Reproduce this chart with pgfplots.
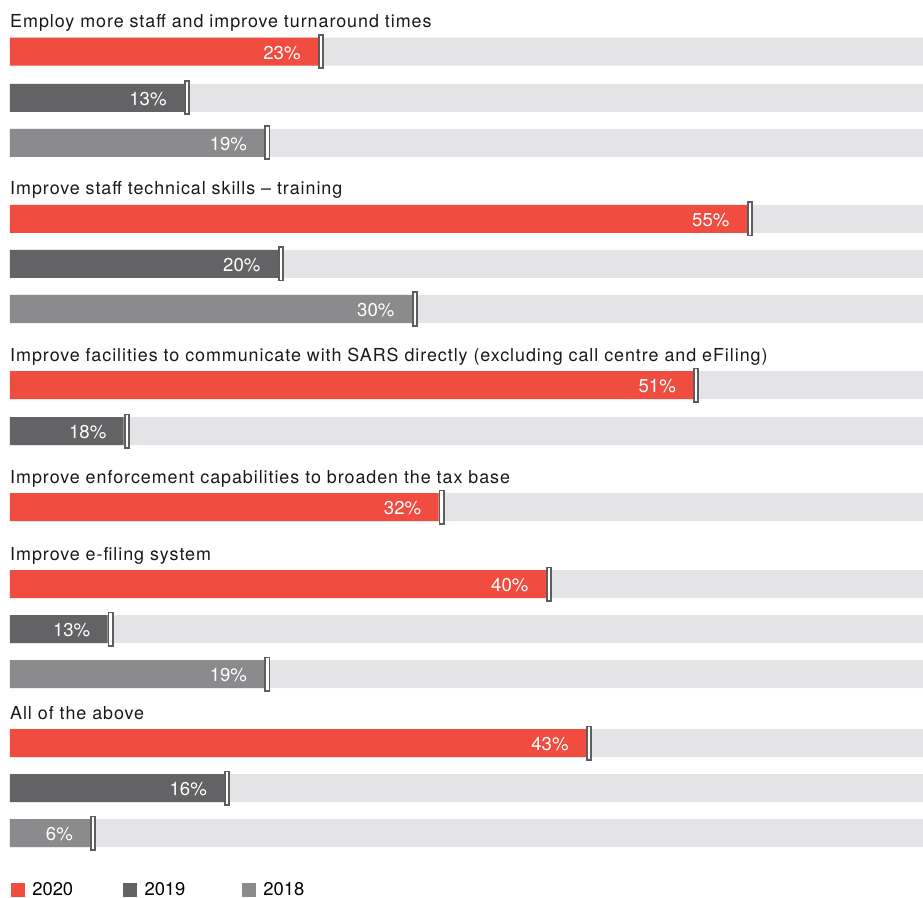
\documentclass[border=0pt]{standalone}
\usepackage{fontspec}
\setmainfont{TeX Gyre Heros}
\newfontfamily\titlefont[LetterSpace=5.3]{TeX Gyre Heros}
\newfontfamily\labelfont{TeX Gyre Heros}
\usepackage{pgfplots}
\usepackage{pgfplotstable}
\pgfplotsset{compat=1.18}
\definecolor{red2020}{HTML}{F04C40}
\definecolor{grey2019}{HTML}{636365}
\definecolor{grey2018}{HTML}{8B8B8D}
\definecolor{track}{HTML}{E4E4E6}
\definecolor{markgrey}{HTML}{5E5E5E}
\pgfdeclareplotmark{endbar}{%
  \pgfpathrectangle{\pgfpoint{0.45pt}{-8.3pt}}{\pgfpoint{2.1pt}{16.6pt}}%
  \pgfusepathqfillstroke}
% drawn bar length, pixel row, printed label
\pgfplotstableread{
v y lab
23 51.7 23
55 219 55
51 385 51
32 507 32
40 584 40
43 743 43
}\datatwenty
\pgfplotstableread{
v y lab
13 97.8 13
20 264 20
8.5 431 18
7.3 629 13
16 788 16
}\datanineteen
\pgfplotstableread{
v y lab
19 142.8 19
30 309 30
19 674 19
6 833 6
}\dataeighteen
\pgfplotstableread{
v y
68.2 51.7
68.2 97.8
68.2 142.8
68.2 219
68.2 264
68.2 309
68.2 385
68.2 431
68.2 507
68.2 584
68.2 629
68.2 674
68.2 743
68.2 788
68.2 833
}\datatrack
\begin{document}
\begin{tikzpicture}
\begin{axis}[
  width=461.5pt, height=448.5pt, scale only axis,
  xmin=-0.7313, xmax=68.149, ymin=0, ymax=897, y dir=reverse,
  hide axis, clip=false,
  xbar, bar width=28, bar shift=0pt,
  every node near coord/.append style={anchor=base east, xshift=-8.5pt, yshift=-3.8pt,
     text=white, inner sep=0pt, font=\labelfont\fontsize{9.3}{11}\selectfont},
  legend columns=3,
  legend style={at={(axis cs:0.09,890)}, anchor=west, draw=none, fill=none,
     inner sep=0pt, outer sep=0pt, nodes={inner sep=0pt},
     cells={anchor=west}, font=\labelfont\fontsize{9.2}{11}\selectfont,
     /tikz/column 1/.style={column sep=3.65pt},
     /tikz/column 2/.style={column sep=25pt},
     /tikz/column 3/.style={column sep=3.65pt},
     /tikz/column 4/.style={column sep=28.3pt},
     /tikz/column 5/.style={column sep=3.65pt}},
]
\addplot[fill=track, draw=none, forget plot] table[x=v, y=y] {\datatrack};
\addplot[fill=red2020, draw=none,
  point meta=explicit symbolic, nodes near coords={\pgfplotspointmeta\%},
  legend image code/.code={\fill[red2020] (0pt,-3.5pt) rectangle (7pt,3.5pt);}]
  table[x=v, y=y, meta=lab] {\datatwenty};
\addlegendentry{2020}
\addplot[fill=grey2019, draw=none,
  point meta=explicit symbolic, nodes near coords={\pgfplotspointmeta\%},
  legend image code/.code={\fill[grey2019] (0pt,-3.5pt) rectangle (7pt,3.5pt);}]
  table[x=v, y=y, meta=lab] {\datanineteen};
\addlegendentry{2019}
\addplot[fill=grey2018, draw=none,
  point meta=explicit symbolic, nodes near coords={\pgfplotspointmeta\%},
  legend image code/.code={\fill[grey2018] (0pt,-3.5pt) rectangle (7pt,3.5pt);}]
  table[x=v, y=y, meta=lab] {\dataeighteen};
\addlegendentry{2018}
\addplot[only marks, mark=endbar, forget plot,
  mark options={fill=white, draw=markgrey, line width=0.9pt}] table[x=v, y=y] {\datatwenty};
\addplot[only marks, mark=endbar, forget plot,
  mark options={fill=white, draw=markgrey, line width=0.9pt}] table[x=v, y=y] {\datanineteen};
\addplot[only marks, mark=endbar, forget plot,
  mark options={fill=white, draw=markgrey, line width=0.9pt}] table[x=v, y=y] {\dataeighteen};
\begin{scope}[every node/.style={anchor=base west, inner sep=0pt, text=black!90,
    font=\titlefont\fontsize{8.95}{10}\selectfont}]
\node at (axis cs:0,28) {Employ more staff and improve turnaround times};
\node at (axis cs:0,195) {Improve staff technical skills – training};
\node at (axis cs:0,361) {Improve facilities to communicate with SARS directly (excluding call centre and eFiling)};
\node at (axis cs:0,483) {Improve enforcement capabilities to broaden the tax base};
\node at (axis cs:0,560) {Improve e-filing system};
\node at (axis cs:0,719) {All of the above};
\end{scope}
\end{axis}
\pgfresetboundingbox
\path (current axis.south west) rectangle (current axis.north east);
\end{tikzpicture}
\end{document}
